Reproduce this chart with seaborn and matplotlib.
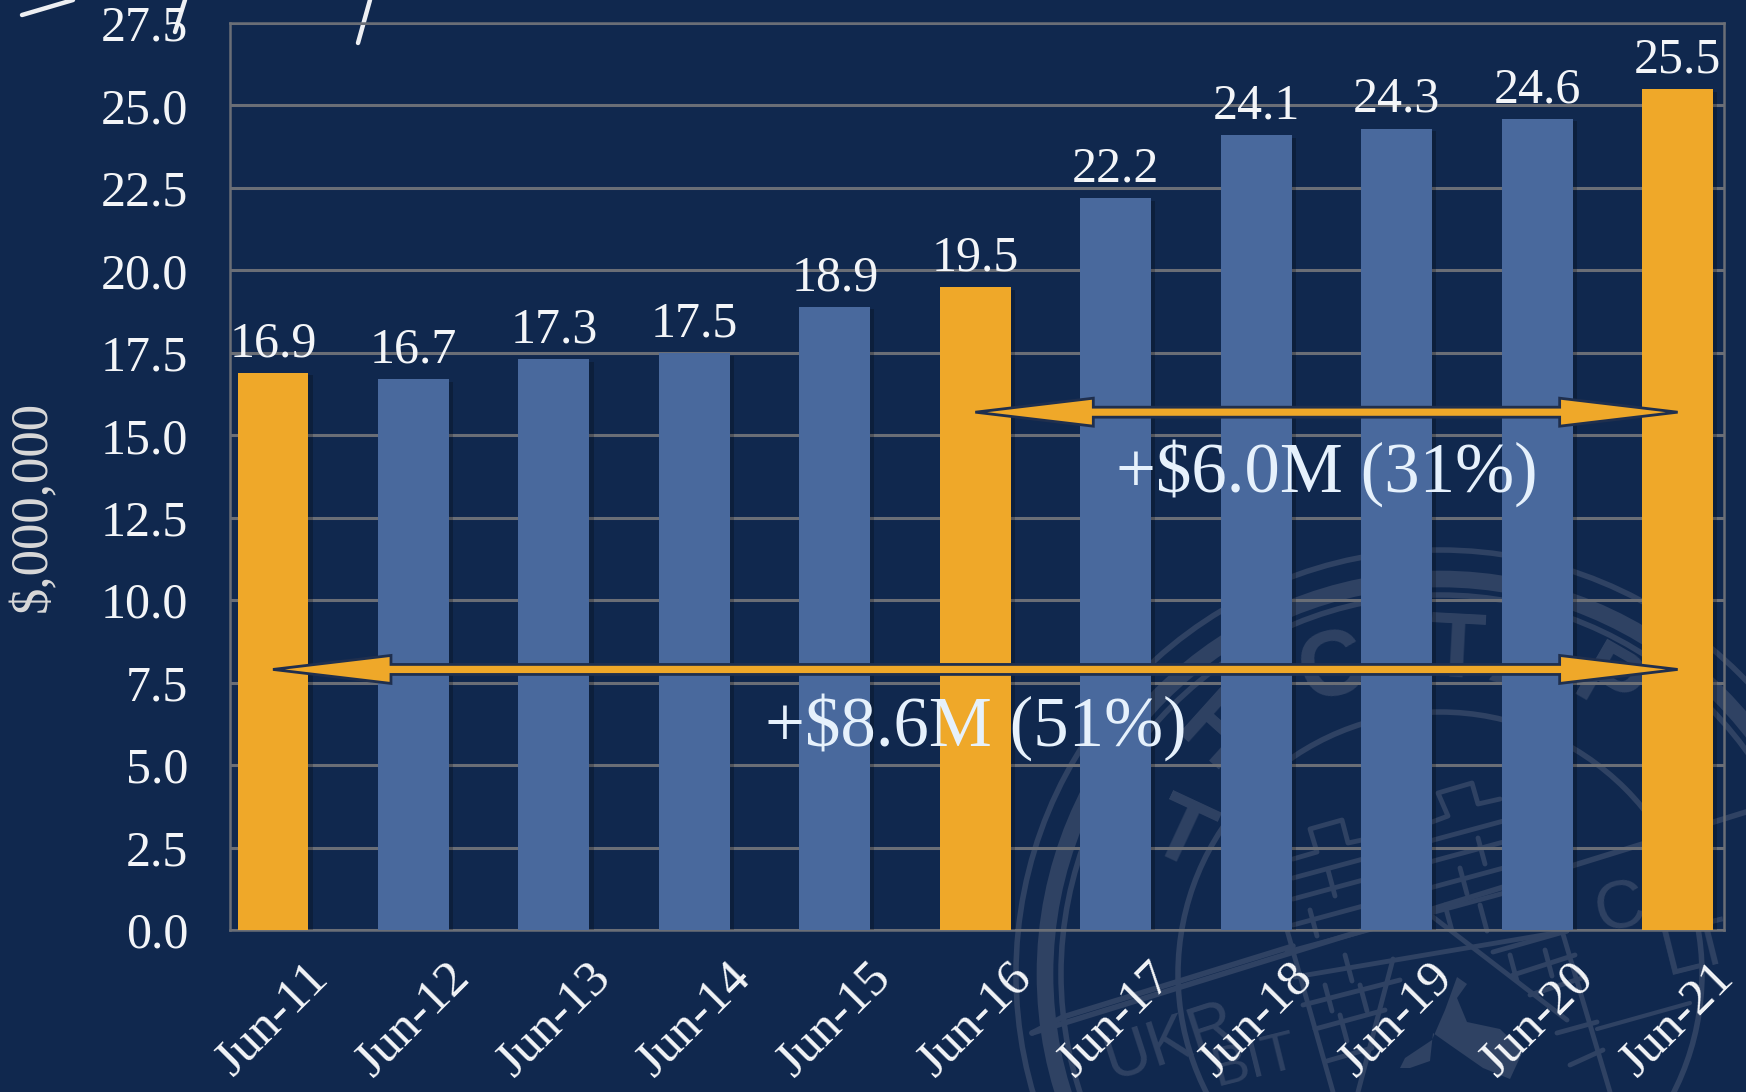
import matplotlib
matplotlib.use("Agg")
import matplotlib.pyplot as plt
import matplotlib.patheffects as pe
from matplotlib.patches import Circle, Polygon
from matplotlib.transforms import IdentityTransform
import pandas as pd
import seaborn as sns

months = ["Jun-11", "Jun-12", "Jun-13", "Jun-14", "Jun-15", "Jun-16",
          "Jun-17", "Jun-18", "Jun-19", "Jun-20", "Jun-21"]
revenue = [16.9, 16.7, 17.3, 17.5, 18.9, 19.5, 22.2, 24.1, 24.3, 24.6, 25.5]
highlight = [True, False, False, False, False, True,
             False, False, False, False, True]
y_ticks = [0.0, 2.5, 5.0, 7.5, 10.0, 12.5, 15.0, 17.5, 20.0, 22.5, 25.0, 27.5]

NAVY = "#10284E"
BLUE = "#49699D"
ORANGE = "#EFA829"
GRID = "#6A6E76"
SEAL = "#2F4263"

sns.set_theme(style="white")
plt.rcParams["font.family"] = ["Liberation Serif", "DejaVu Serif"]

W, H = 1746, 1092
fig = plt.figure(figsize=(W / 100, H / 100), dpi=100, facecolor=NAVY)

# faint seal behind the chart, in image pixels
bg = fig.add_axes([0, 0, 1, 1], zorder=0)
bg.set_xlim(0, W)
bg.set_ylim(H, 0)
bg.axis("off")
cx, cy = 1440, 974
for r, lw in [(424, 4), (395, 12), (379, 4), (262, 4)]:
    bg.add_patch(Circle((cx, cy), r, fill=False, ec=SEAL, lw=lw))

seal_letters = [("T", 1180, 838, -25), ("H", 1213, 737, -42), ("C", 1333, 670, 15),
                ("T", 1457, 653, -3), ("A", 1525, 668, -20), ("P", 1607, 688, -30)]
for letter, lx, ly, rot in seal_letters:
    bg.text(lx, ly, letter, color=SEAL, fontsize=66, family="Liberation Sans",
            weight="bold", ha="center", va="center", rotation=rot)
seal_words = [("UKR", 1170, 1043, 18, 46), ("BIT", 1255, 1062, 14, 40),
              ("C", 1620, 910, 12, 50), ("LT", 1697, 950, 14, 46)]
for word, lx, ly, rot, size in seal_words:
    bg.text(lx, ly, word, color=SEAL, fontsize=size, family="Liberation Sans",
            ha="center", va="center", rotation=rot)

# roof band
bg.plot([1032, 1746], [1033, 812], color=SEAL, lw=4)
bg.plot([1063, 1293], [1017, 946], color=SEAL, lw=4)
bg.plot([1032, 1063], [1033, 1017], color=SEAL, lw=4)
bg.plot([1597, 1690], [1029, 1003], color=SEAL, lw=3)

# brick tower
battlements = [[(1293, 859), (1317, 852), (1310, 829), (1342, 820), (1348, 843), (1362, 840)],
               [(1432, 822), (1448, 816), (1438, 793), (1472, 783), (1478, 804), (1500, 799)]]
for pts in battlements:
    bg.plot(*zip(*pts), color=SEAL, lw=3.5)
brick_rows = [((1293, 878), (1570, 803)), ((1293, 899), (1570, 824)), ((1293, 925), (1570, 850)),
              ((1287, 952), (1567, 876)), ((1295, 977), (1567, 931)), ((1303, 1005), (1400, 980)),
              ((1315, 1029), (1385, 1010)), ((1327, 1061), (1372, 1048)),
              ((1493, 952), (1567, 931)), ((1513, 975), (1575, 955)), ((1530, 995), (1585, 977)),
              ((1557, 1033), (1597, 1022)), ((1570, 1065), (1603, 1050))]
for (ax0, ay0), (ax1, ay1) in brick_rows:
    bg.plot([ax0, ax1], [ay0, ay1], color=SEAL, lw=3.5)
bg.plot([1287, 1333], [930, 1092], color=SEAL, lw=3.5)
bg.plot([1393, 1358], [959, 1092], color=SEAL, lw=3.5)
bg.plot([1563, 1610], [934, 1092], color=SEAL, lw=3.5)
bg.plot([1433, 1567], [917, 1020], color=SEAL, lw=3.5)
joints = [(1328, 870), (1310, 910), (1345, 955), (1325, 985), (1340, 1015), (1360, 985),
          (1478, 838), (1460, 868), (1505, 865), (1445, 905), (1480, 905), (1510, 955), (1545, 950)]
for jx, jy in joints:
    bg.plot([jx, jx + 7], [jy, jy + 26], color=SEAL, lw=3.5)

# wrench shape at the foot of the seal
wrench = [(1457, 977), (1467, 984), (1457, 998), (1467, 1022), (1500, 1029), (1523, 1051),
          (1510, 1079), (1483, 1068), (1450, 1045), (1433, 1033), (1430, 1061), (1410, 1068),
          (1400, 1068), (1405, 1058), (1432, 1040), (1445, 1010)]
bg.add_patch(Polygon(wrench, closed=True, fc=SEAL, ec="none"))

# stray pen strokes at the top
for sx, sy in [([22, 73], [15, 0]), ([185, 175], [0, 32]), ([370, 358], [0, 43])]:
    bg.plot(sx, sy, color="#EDEFF3", lw=3.2, solid_capstyle="round", zorder=6)

# main chart
ax = fig.add_axes([230 / W, 1 - 930 / H, (1724 - 230) / W, (930 - 23) / H], zorder=1)
ax.patch.set_alpha(0)
df = pd.DataFrame({"month": months, "revenue": revenue, "highlight": highlight})
sns.barplot(data=df, x="month", y="revenue", hue="highlight",
            palette={True: ORANGE, False: BLUE}, dodge=False, width=0.505,
            legend=False, saturation=1, edgecolor="none", linewidth=0, ax=ax, zorder=3)
for bar in ax.patches:
    bar.set_path_effects([pe.SimplePatchShadow(offset=(3, -2), alpha=0.22, shadow_rgbFace="black"), pe.Normal()])

ax.set_xlim(-0.306, 10.33)
ax.set_ylim(0, 27.5)
ax.set_yticks(y_ticks)
ax.set_yticklabels([f"{t:.1f}" for t in y_ticks])
ax.yaxis.grid(True, color=GRID, lw=2.2, zorder=1)
ax.set_axisbelow(True)
ax.xaxis.grid(False)
for spine in ax.spines.values():
    spine.set_color(GRID)
    spine.set_linewidth(1.8)
ax.tick_params(axis="y", length=0, pad=30, labelsize=36, labelcolor="#F3F5F8")
ax.tick_params(axis="x", length=0, pad=17, labelsize=37, labelcolor="#F3F5F8")
for label in ax.get_xticklabels():
    label.set_rotation(45)
    label.set_ha("center")
ax.set_xlabel("")
ax.set_ylabel("$,000,000", fontsize=38, color="#D9D9D9", labelpad=0)
ax.yaxis.set_label_coords(-0.116, 0.467)

for i, v in enumerate(revenue):
    ax.annotate(f"{v:.1f}", (i, v), xytext=(0, 4), textcoords="offset points",
                ha="center", va="bottom", fontsize=36, color="#F3F5F8", zorder=5)


def double_arrow(x0, x1, y):
    # outline polygon worked out in pixels so the heads keep their size
    (px0, py), (px1, _) = ax.transData.transform([(x0, y), (x1, y)])
    hl, hw, sw = 118, 14, 5
    pts = [(px0, py), (px0 + hl, py + hw), (px0 + hl, py + sw), (px1 - hl, py + sw),
           (px1 - hl, py + hw), (px1, py), (px1 - hl, py - hw), (px1 - hl, py - sw),
           (px0 + hl, py - sw), (px0 + hl, py - hw)]
    ax.add_patch(Polygon(pts, closed=True, fc=ORANGE, ec="#1F2F4E", lw=2,
                         transform=IdentityTransform(), zorder=6, clip_on=False))


fig.canvas.draw()
double_arrow(5, 10, 15.7)
double_arrow(0, 10, 7.9)

ax.text(7.5, 13.85, "+$6.0M (31%)", fontsize=51, color="#E6F1FC", ha="center", va="center", zorder=7)
ax.text(5.0, 6.15, "+$8.6M (51%)", fontsize=51, color="#E6F1FC", ha="center", va="center", zorder=7)

fig.savefig("out.png", dpi=100, facecolor=NAVY)
